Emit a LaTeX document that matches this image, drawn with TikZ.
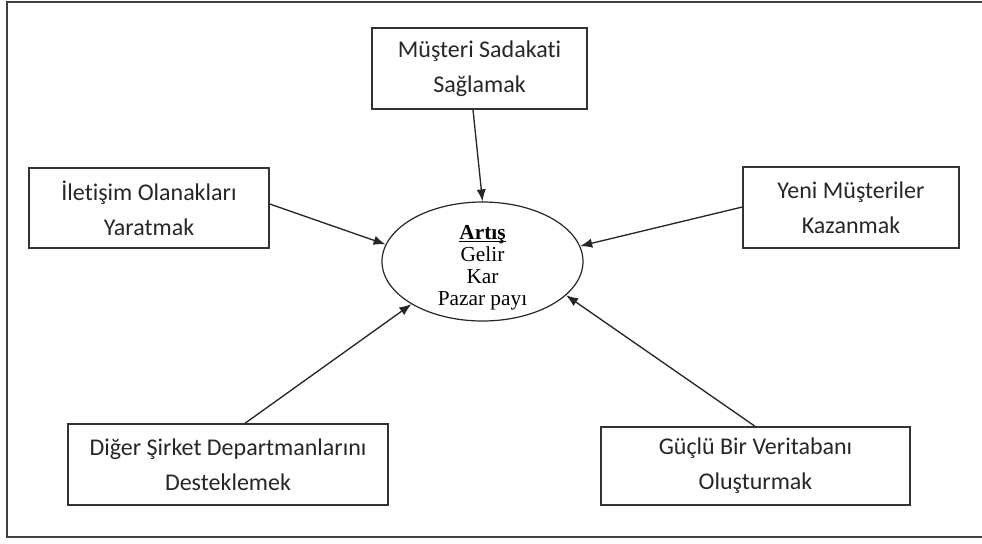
\documentclass[tikz,border=0pt]{standalone}
\usepackage{fontspec}
\setmainfont[Ligatures=NoCommon]{Carlito}
\newfontfamily\timesfont{Liberation Serif}
\usetikzlibrary{arrows.meta,shapes.geometric}

% underline placed just below the baseline, word-processor style
\newcommand\lowrule[1]{\setbox0\hbox{#1}\rlap{\rule[-1.8pt]{\wd0}{0.7pt}}\box0}

\begin{document}
\begin{tikzpicture}[x=0.75pt,y=-0.75pt,
  goalbox/.style={draw=black!80,line width=1.1pt,align=center,
    font=\fontsize{18}{26}\selectfont,text=black!85,inner sep=0pt},
  centre/.style={ellipse,draw=black!85,line width=0.9pt,inner sep=0pt},
  centretext/.style={align=center,inner sep=0pt,
    font=\timesfont\fontsize{16}{16.5}\selectfont},
  link/.style={draw=black!85,line width=1pt,
    -{Latex[length=9pt,width=7pt]}}]
\useasboundingbox (0,0) rectangle (982,543);

% outer frame (right side runs past the page edge)
\draw[black!75,line width=1.2pt] (990,2) -- (7,2) -- (7,537) -- (990,537);

% centre ellipse and its text
\node[centre,minimum width=201*0.75pt,minimum height=119*0.75pt] (ell) at (482.5,261.5) {};
\node[centretext] (elltext) at (482.5,268)
  {\lowrule{\textbf{Artış}}\\Gelir\\Kar\\Pazar payı};

% surrounding goals
\node[goalbox,minimum width=215*0.75pt,minimum height=81*0.75pt] (top) at (479.5,68.5)
  {Müşteri Sadakati\\Sağlamak};
\node[goalbox,minimum width=240*0.75pt,minimum height=80*0.75pt] (left) at (149,208)
  {İletişim Olanakları\\Yaratmak};
\node[goalbox,minimum width=216*0.75pt,minimum height=81*0.75pt] (right) at (851,207.5)
  {Yeni Müşteriler\\Kazanmak};
\node[goalbox,minimum width=320*0.75pt,minimum height=81*0.75pt] (botl) at (228,464.5)
  {Diğer Şirket Departmanlarını\\Desteklemek};
\node[goalbox,minimum width=309*0.75pt,minimum height=78*0.75pt] (botr) at (755.5,466)
  {Güçlü Bir Veritabanı\\Oluşturmak};

% arrow start points on the box borders
\coordinate (sTop) at (top.south -| 473,0);
\coordinate (sLeft) at (left.east |- 0,204);
\coordinate (sRight) at (right.west |- 0,207);
\coordinate (sBotl) at (botl.north -| 245,0);
\coordinate (sBotr) at (botr.north -| 755,0);

\draw[link] (sTop) -- (ell.north);
\draw[link] (sLeft) -- (ell.170);
\draw[link] (sRight) -- (ell.9);
\draw[link] (sBotl) -- (ell.211);
\draw[link] (sBotr) -- (ell.-22);
\end{tikzpicture}
\end{document}
